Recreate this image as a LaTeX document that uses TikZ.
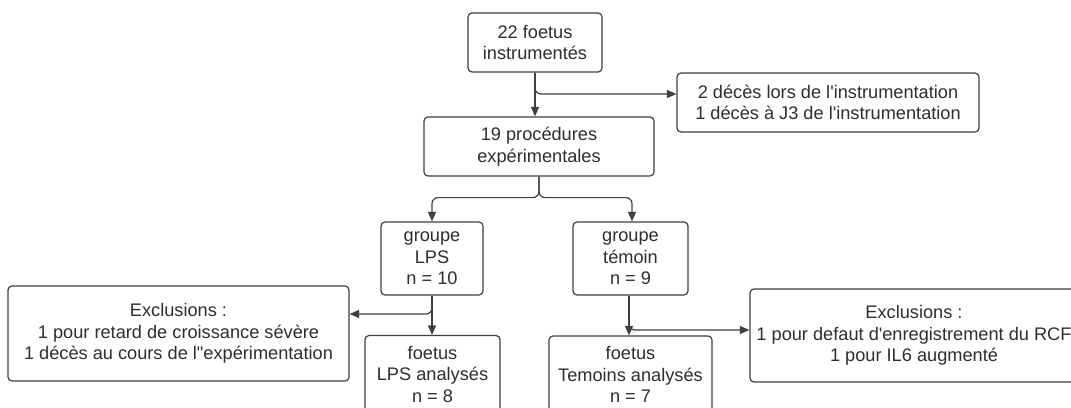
\documentclass[tikz,border=0pt]{standalone}
\usepackage{fontspec}
\setmainfont[Ligatures=TeXOff]{Liberation Sans}
\usetikzlibrary{arrows.meta}
\definecolor{ink}{HTML}{2E2E2E}
\definecolor{edgec}{HTML}{404040}
\begin{document}
\begin{tikzpicture}[x=1pt,y=1pt,
  box/.style={draw=edgec, line width=1.2pt, rounded corners=4pt, align=center,
    inner sep=0pt, text=ink, font=\fontsize{18.2}{21.5}\selectfont},
  arr/.style={draw=edgec, line width=1.2pt, -{Triangle[length=9.5pt,width=8pt]}, rounded corners=6pt}]
\useasboundingbox (0,0) rectangle (1071,-407);
\fill[white] (0,0) rectangle (1071,-407);
\clip (0,0) rectangle (1071,-407);

\node[box, minimum width=134, minimum height=59] (top) at (535,-42.5) {22 foetus\\instrumentés};
\node[box, minimum width=302, minimum height=59] (dec) at (828,-102.5) {2 décès lors de l'instrumentation\\1 décès à J3 de l'instrumentation};
\node[box, minimum width=230, minimum height=59] (proc) at (539,-146.5) {19 procédures\\expérimentales};
\node[box, minimum width=102, minimum height=73] (lps) at (432,-258.5) {groupe\\LPS\\n = 10};
\node[box, minimum width=115, minimum height=73] (tem) at (630.5,-258.5) {groupe\\témoin\\n = 9};
\node[box, minimum width=341, minimum height=95] (exL) at (178.5,-333.5) {Exclusions :\\1 pour retard de croissance sévère\\1 décès au cours de l"expérimentation};
\node[box, minimum width=135, minimum height=77] (flps) at (432.5,-374) {foetus\\LPS analysés\\n = 8};
\node[box, minimum width=163, minimum height=77] (ftem) at (630.5,-374.5) {foetus\\Temoins analysés\\n = 7};
\node[box, minimum width=328, minimum height=93] (exR) at (914,-335.5) {Exclusions :\\1 pour defaut d'enregistrement du RCF\\1 pour IL6 augmenté};

\coordinate (j1) at (dec.west |- 0,-94);
\coordinate (j2) at (exL.east |- 0,-314);
\coordinate (j3) at (exR.west |- 0,-330);

\draw[arr] (top.south) -- (top.south |- proc.north);
\draw[arr] (top.south) |- (j1);
\draw[arr] (proc.south) -- ++(0,-21) -| (lps.north);
\draw[arr] (proc.south) -- ++(0,-21) -| ([xshift=1.5pt]tem.north);
\draw[arr] (lps.south) -- (lps.south |- flps.north);
\draw[arr] (lps.south) |- (j2);
\draw[arr] ([xshift=-1.5pt]tem.south) -- ([xshift=-1.5pt]tem.south |- ftem.north);
\draw[arr] ([xshift=-1.5pt]tem.south) |- (j3);
\end{tikzpicture}
\end{document}
